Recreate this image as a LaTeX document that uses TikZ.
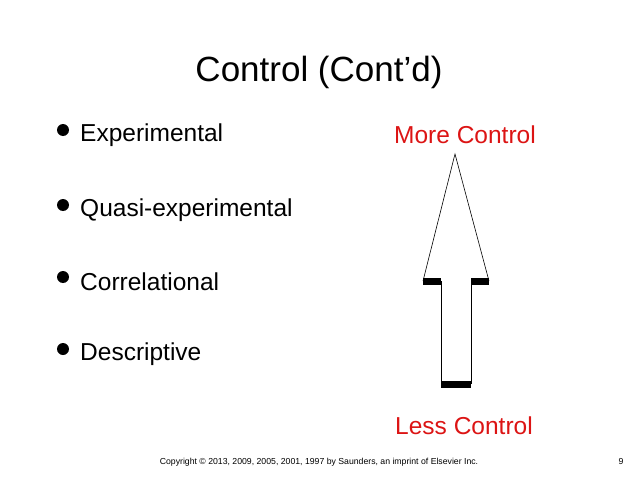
\documentclass[tikz,border=0pt]{standalone}
\usepackage{fontspec}
\setmainfont{Liberation Sans}
\begin{document}
\begin{tikzpicture}[x=1pt,y=-1pt]
  \tikzset{item/.style = {anchor=west,font=\fontsize{24.5}{28}\selectfont,inner sep=0pt}}
  \tikzset{dot/.style = {circle,fill,inner sep=0pt,minimum size=12pt}}
  \tikzset{redlabel/.style = {font=\fontsize{24.5}{28}\selectfont,text={rgb,255:red,220;green,20;blue,20},inner sep=0pt}}
  \tikzset{bar/.style = {line width=7pt}}
  \useasboundingbox (0,0) rectangle (638,479);

  \node[font=\fontsize{35}{40}\selectfont] (title) at (319,72) {Control (Cont’d)};

  \node[dot] (B1) at (63,130) {};
  \node[dot] (B2) at (63,205) {};
  \node[dot] (B3) at (63,277) {};
  \node[dot] (B4) at (63,349) {};
  \node[item] (Iexp) at (80,135) {Experimental};
  \node[item] (Iquasi) at (80,210) {Quasi-experimental};
  \node[item] (Icorr) at (80,282) {Correlational};
  \node[item] (Idesc) at (80,354) {Descriptive};

  \node[redlabel] (more) at (465,135) {More Control};
  \node[redlabel] (less) at (464,426) {Less Control};

  % arrow
  \coordinate (tip) at (455,154);
  \coordinate (hl) at (423,281);
  \coordinate (hr) at (489,281);
  \coordinate (sl) at (441,281);
  \coordinate (sr) at (471,281);
  \coordinate (bl) at (441,384);
  \coordinate (br) at (471,384);
  \draw[line width=0.6pt] (hl) -- (tip) -- (hr);
  \draw[line width=0.6pt] (sl) -- (bl);
  \draw[line width=0.6pt] (sr) -- (br);
  \draw[bar] (hl) -- (sl);
  \draw[bar] (sr) -- (hr);
  \draw[bar] (bl) -- (br);

  \node[font=\fontsize{8.7}{10}\selectfont] (copy) at (319,462) {Copyright © 2013, 2009, 2005, 2001, 1997 by Saunders, an imprint of Elsevier Inc.};
  \node[font=\fontsize{8.7}{10}\selectfont] (page) at (621,462) {9};
\end{tikzpicture}
\end{document}
